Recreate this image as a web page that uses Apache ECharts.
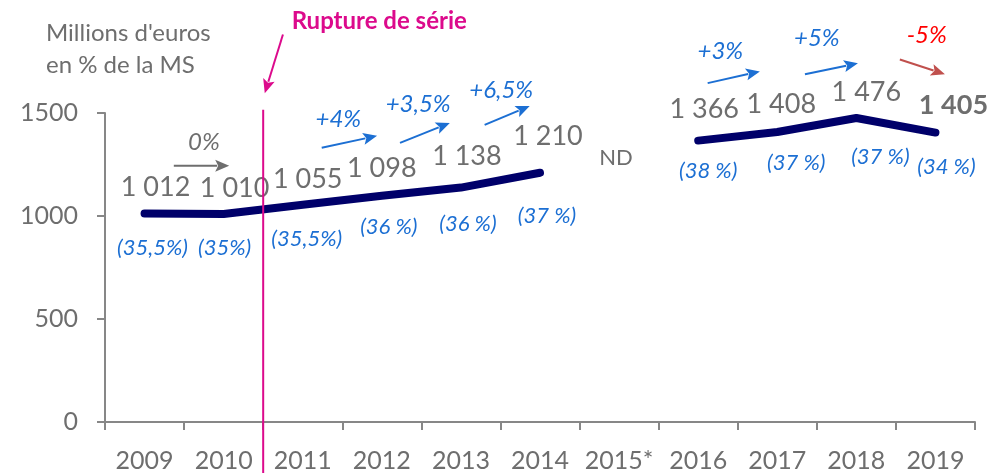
<!DOCTYPE html>
<html>
<head>
<meta charset="utf-8">
<script src="https://cdn.jsdelivr.net/npm/echarts@6/dist/echarts.min.js"></script>
<style>
  html, body { margin: 0; padding: 0; background: #ffffff; }
  #chart { width: 999px; height: 473px; }
</style>
</head>
<body>
<div id="chart"></div>
<script>
// Years on the horizontal axis (2015 has no figure)
const years = ['2009', '2010', '2011', '2012', '2013', '2014', '2015*', '2016', '2017', '2018', '2019'];
// Amounts in millions of euros
const amounts = [1012, 1010, 1055, 1098, 1138, 1210, null, 1366, 1408, 1476, 1405];
// Printed amount labels
const amountText = ['1 012', '1 010', '1 055', '1 098', '1 138', '1 210', 'ND', '1 366', '1 408', '1 476', '1 405'];
// Share of the wage bill
const shareText = ['(35,5%)', '(35%)', '(35,5%)', '(36 %)', '(36 %)', '(37 %)', '', '(38 %)', '(37 %)', '(37 %)', '(34 %)'];
// Year-on-year changes
const growthText = ['0%', '+4%', '+3,5%', '+6,5%', '+3%', '+5%', '-5%'];
// Y-axis ticks
const yTicks = [0, 500, 1000, 1500];

const FONT = 'Lato';
const GRAY = '#6e6e6e';
const BLUE = '#1c6fd3';
const NAVY = '#00006a';
const MAGENTA = '#dc0a8c';

// Label placement (pixels, relative to each point)
const amountOffset = [[11, -26], [11, -26], [5, -25], [0, -28], [6, -31], [8, -36], [0, 0], [6, -31], [4, -28], [10, -26], [18, -27]];
const shareOffset = [[8, 34], [1, 34], [4, 34], [7, 31], [7, 36], [7, 43], [0, 0], [10, 30], [19, 31], [24, 39], [11, 34]];

// Growth arrows: [x start, value start, x end, value end, text x, text value], x in category units
const growthLayout = [
  [0.37, 1244, 1.07, 1244, 0.75, 1360],
  [2.24, 1331, 2.94, 1389, 2.45, 1471],
  [3.23, 1355, 3.86, 1452, 3.46, 1543],
  [4.30, 1442, 4.87, 1534, 4.51, 1611],
  [7.12, 1645, 7.78, 1702, 7.28, 1799],
  [8.35, 1688, 9.02, 1741, 8.50, 1862],
  [9.55, 1760, 10.12, 1688, 9.89, 1876]
];
const growthColor = [GRAY, BLUE, BLUE, BLUE, BLUE, BLUE, '#c0504d'];
const growthTextColor = [GRAY, BLUE, BLUE, BLUE, BLUE, BLUE, '#ff0000'];

const chart = echarts.init(document.getElementById('chart'), null, { renderer: 'canvas' });

const amountData = amounts.map((v, i) => ({
  value: v,
  label: {
    formatter: amountText[i],
    offset: amountOffset[i],
    fontWeight: i === amounts.length - 1 ? 'bold' : 'normal'
  }
}));
const shareData = amounts.map((v, i) => ({
  value: v,
  label: { formatter: shareText[i], offset: shareOffset[i] }
}));

chart.setOption({
  animation: false,
  title: {
    text: "Millions d'euros\nen % de la MS",
    left: 41,
    top: 12,
    textStyle: { fontFamily: FONT, fontSize: 24, fontWeight: 'normal', color: GRAY, lineHeight: 32 }
  },
  grid: { left: 105, right: 24, top: 113, bottom: 51, containLabel: false },
  xAxis: {
    type: 'category',
    data: years,
    boundaryGap: true,
    axisLine: { lineStyle: { color: '#878787', width: 2 } },
    axisTick: { show: true, length: 8, lineStyle: { color: '#878787', width: 2 } },
    axisLabel: { color: GRAY, fontFamily: FONT, fontSize: 25, margin: 26, interval: 0 },
    splitLine: { show: false }
  },
  yAxis: {
    type: 'value',
    min: yTicks[0],
    max: yTicks[yTicks.length - 1],
    interval: yTicks[1] - yTicks[0],
    axisLine: { show: true, lineStyle: { color: '#878787', width: 2 } },
    axisTick: { show: true, length: 8, lineStyle: { color: '#878787', width: 2 } },
    axisLabel: { color: GRAY, fontFamily: FONT, fontSize: 25, margin: 27, formatter: (v) => String(v) },
    splitLine: { show: false }
  },
  series: [
    {
      name: 'Montant',
      type: 'line',
      data: amountData,
      connectNulls: false,
      symbol: 'circle',
      symbolSize: 1,
      showSymbol: true,
      silent: true,
      itemStyle: { color: NAVY },
      lineStyle: { color: NAVY, width: 8, cap: 'round', join: 'round' },
      label: {
        show: true,
        position: 'inside',
        color: GRAY,
        fontFamily: FONT,
        fontSize: 27
      },
      emphasis: { disabled: true },
      z: 3
    },
    {
      name: 'Part',
      type: 'line',
      data: shareData,
      connectNulls: false,
      symbol: 'circle',
      symbolSize: 1,
      showSymbol: true,
      silent: true,
      itemStyle: { color: 'transparent' },
      lineStyle: { width: 0, opacity: 0 },
      label: {
        show: true,
        position: 'inside',
        color: BLUE,
        fontFamily: FONT,
        fontStyle: 'italic',
        fontSize: 22
      },
      emphasis: { disabled: true },
      z: 2
    }
  ]
});

// Annotations placed through the axes' own scales
const xPx = (f) => {
  const a = chart.convertToPixel({ xAxisIndex: 0 }, 0);
  const b = chart.convertToPixel({ xAxisIndex: 0 }, 1);
  return a + f * (b - a);
};
const yPx = (v) => chart.convertToPixel({ yAxisIndex: 0 }, v);

function arrow(x0, y0, x1, y1, color, id) {
  const dx = x1 - x0, dy = y1 - y0;
  const len = Math.sqrt(dx * dx + dy * dy);
  const ux = dx / len, uy = dy / len;
  const head = 14, half = 6;
  const bx = x1 - ux * head, by = y1 - uy * head;
  return [
    {
      type: 'line', id: id + '-l', silent: true,
      shape: { x1: x0, y1: y0, x2: bx + ux * 2, y2: by + uy * 2 },
      style: { stroke: color, lineWidth: 2 }
    },
    {
      type: 'polygon', id: id + '-h', silent: true,
      shape: { points: [[x1, y1], [bx - uy * half, by + ux * half], [bx + ux * 3, by + uy * 3], [bx + uy * half, by - ux * half]] },
      style: { fill: color }
    }
  ];
}

const graphics = [];
growthLayout.forEach((g, i) => {
  graphics.push(...arrow(xPx(g[0]), yPx(g[1]), xPx(g[2]), yPx(g[3]), growthColor[i], 'g' + i));
  graphics.push({
    type: 'text', silent: true,
    x: xPx(g[4]), y: yPx(g[5]),
    style: {
      text: growthText[i], fill: growthTextColor[i],
      font: 'italic 24px ' + FONT, align: 'center', verticalAlign: 'middle'
    }
  });
});

// "ND" for the missing 2015 figure
graphics.push({
  type: 'text', silent: true,
  x: xPx(6) - 3, y: yPx(1283),
  style: { text: amountText[6], fill: GRAY, font: '22px ' + FONT, align: 'center', verticalAlign: 'middle' }
});

// Series break between 2010 and 2011
const breakX = xPx(1.5);
graphics.push({
  type: 'line', silent: true, z: 10,
  shape: { x1: breakX, y1: yPx(1516), x2: breakX, y2: chart.getHeight() },
  style: { stroke: MAGENTA, lineWidth: 2 }
});
graphics.push(...arrow(xPx(1.75), yPx(1881), xPx(1.52), yPx(1596), MAGENTA, 'brk'));
graphics.push({
  type: 'text', silent: true,
  x: xPx(1.86), y: yPx(1944),
  style: { text: 'Rupture de série', fill: MAGENTA, font: 'bold 24px ' + FONT, align: 'left', verticalAlign: 'middle' }
});

chart.setOption({ graphic: { elements: graphics } });
</script>
</body>
</html>
